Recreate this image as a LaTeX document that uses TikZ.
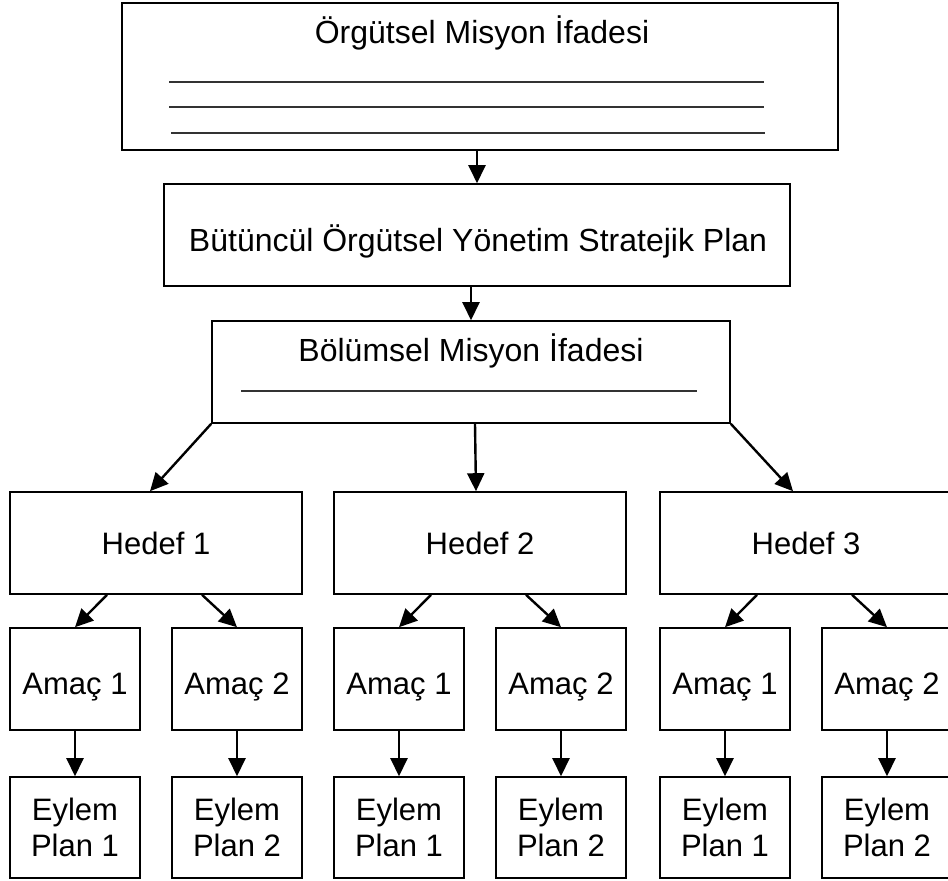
\documentclass[tikz,border=0pt]{standalone}
\usepackage{fontspec}
\setmainfont{Liberation Sans}
\usetikzlibrary{arrows.meta, positioning}

\begin{document}
\begin{tikzpicture}[x=1pt, y=-1pt,
  every node/.style={font=\fontsize{31}{36}\selectfont, align=center},
  box/.style={draw, line width=1.6pt, inner sep=0pt},
  title/.style={anchor=base, font=\fontsize{32}{38}\selectfont},
  goal/.style={box, minimum width=292pt, minimum height=102pt},
  aim/.style={box, minimum width=130pt, minimum height=102pt, text height=36pt, text depth=6pt},
  plan/.style={box, minimum width=130pt, minimum height=101pt},
  arr/.style={-{Triangle[length=18pt, width=17pt]}, line width=2.4pt},
  rule/.style={line width=1.3pt, black!80}]

  \useasboundingbox (0,0) rectangle (948,881);

  % Organisational mission
  \node (mission) [box, minimum width=716pt, minimum height=147pt] at (480,76.5) {};
  \node (missiontext) [title] at (482,43) {Örgütsel Misyon İfadesi};
  \draw[rule] (169,82) -- (764,82);
  \draw[rule] (169,107) -- (764,107);
  \draw[rule] (171,133) -- (765,133);

  % Strategic plan
  \node (strategy) [box, minimum width=626pt, minimum height=102pt] at (477,235) {};
  \node (strategytext) [title] at (478,251) {Bütüncül Örgütsel Yönetim Stratejik Plan};

  % Divisional mission
  \node (division) [box, minimum width=518pt, minimum height=102pt] at (471,372) {};
  \node (divisiontext) [title] at (471,361) {Bölümsel Misyon İfadesi};
  \draw[rule] (241,391) -- (697,391);

  \draw[arr] (mission.south -| strategy.north) -- (strategy.north);
  \draw[arr] (strategy.south -| division.north) -- (division.north);

  % Goals
  \node (h1) [goal] at (156,543) {Hedef 1};
  \node (h2) [goal] at (480,543) {Hedef 2};
  \node (h3) [goal] at (806,543) {Hedef 3};

  \draw[arr] (division.south west) -- ([xshift=-6pt]h1.north);
  \draw[arr] ([xshift=4pt]division.south) -- ([xshift=-4pt]h2.north);
  \draw[arr] (division.south east) -- ([xshift=-13pt]h3.north);

  % Aims
  \node (a11) [aim] at (75,679) {Amaç 1};
  \node (a12) [aim] at (237,679) {Amaç 2};
  \node (a21) [aim] at (399,679) {Amaç 1};
  \node (a22) [aim] at (561,679) {Amaç 2};
  \node (a31) [aim] at (725,679) {Amaç 1};
  \node (a32) [aim] at (887,679) {Amaç 2};

  % Action plans
  \node (e11) [plan] at (75,827.5) {Eylem\\Plan 1};
  \node (e12) [plan] at (237,827.5) {Eylem\\Plan 2};
  \node (e21) [plan] at (399,827.5) {Eylem\\Plan 1};
  \node (e22) [plan] at (561,827.5) {Eylem\\Plan 2};
  \node (e31) [plan] at (725,827.5) {Eylem\\Plan 1};
  \node (e32) [plan] at (887,827.5) {Eylem\\Plan 2};

  \foreach \g in {1,2,3} {
    \draw[arr] ([xshift=-49pt]h\g.south) -- (a\g1.north);
    \draw[arr] ([xshift=46pt]h\g.south) -- (a\g2.north);
    \draw[arr] (a\g1.south) -- (e\g1.north);
    \draw[arr] (a\g2.south) -- (e\g2.north);
  }

\end{tikzpicture}
\end{document}
